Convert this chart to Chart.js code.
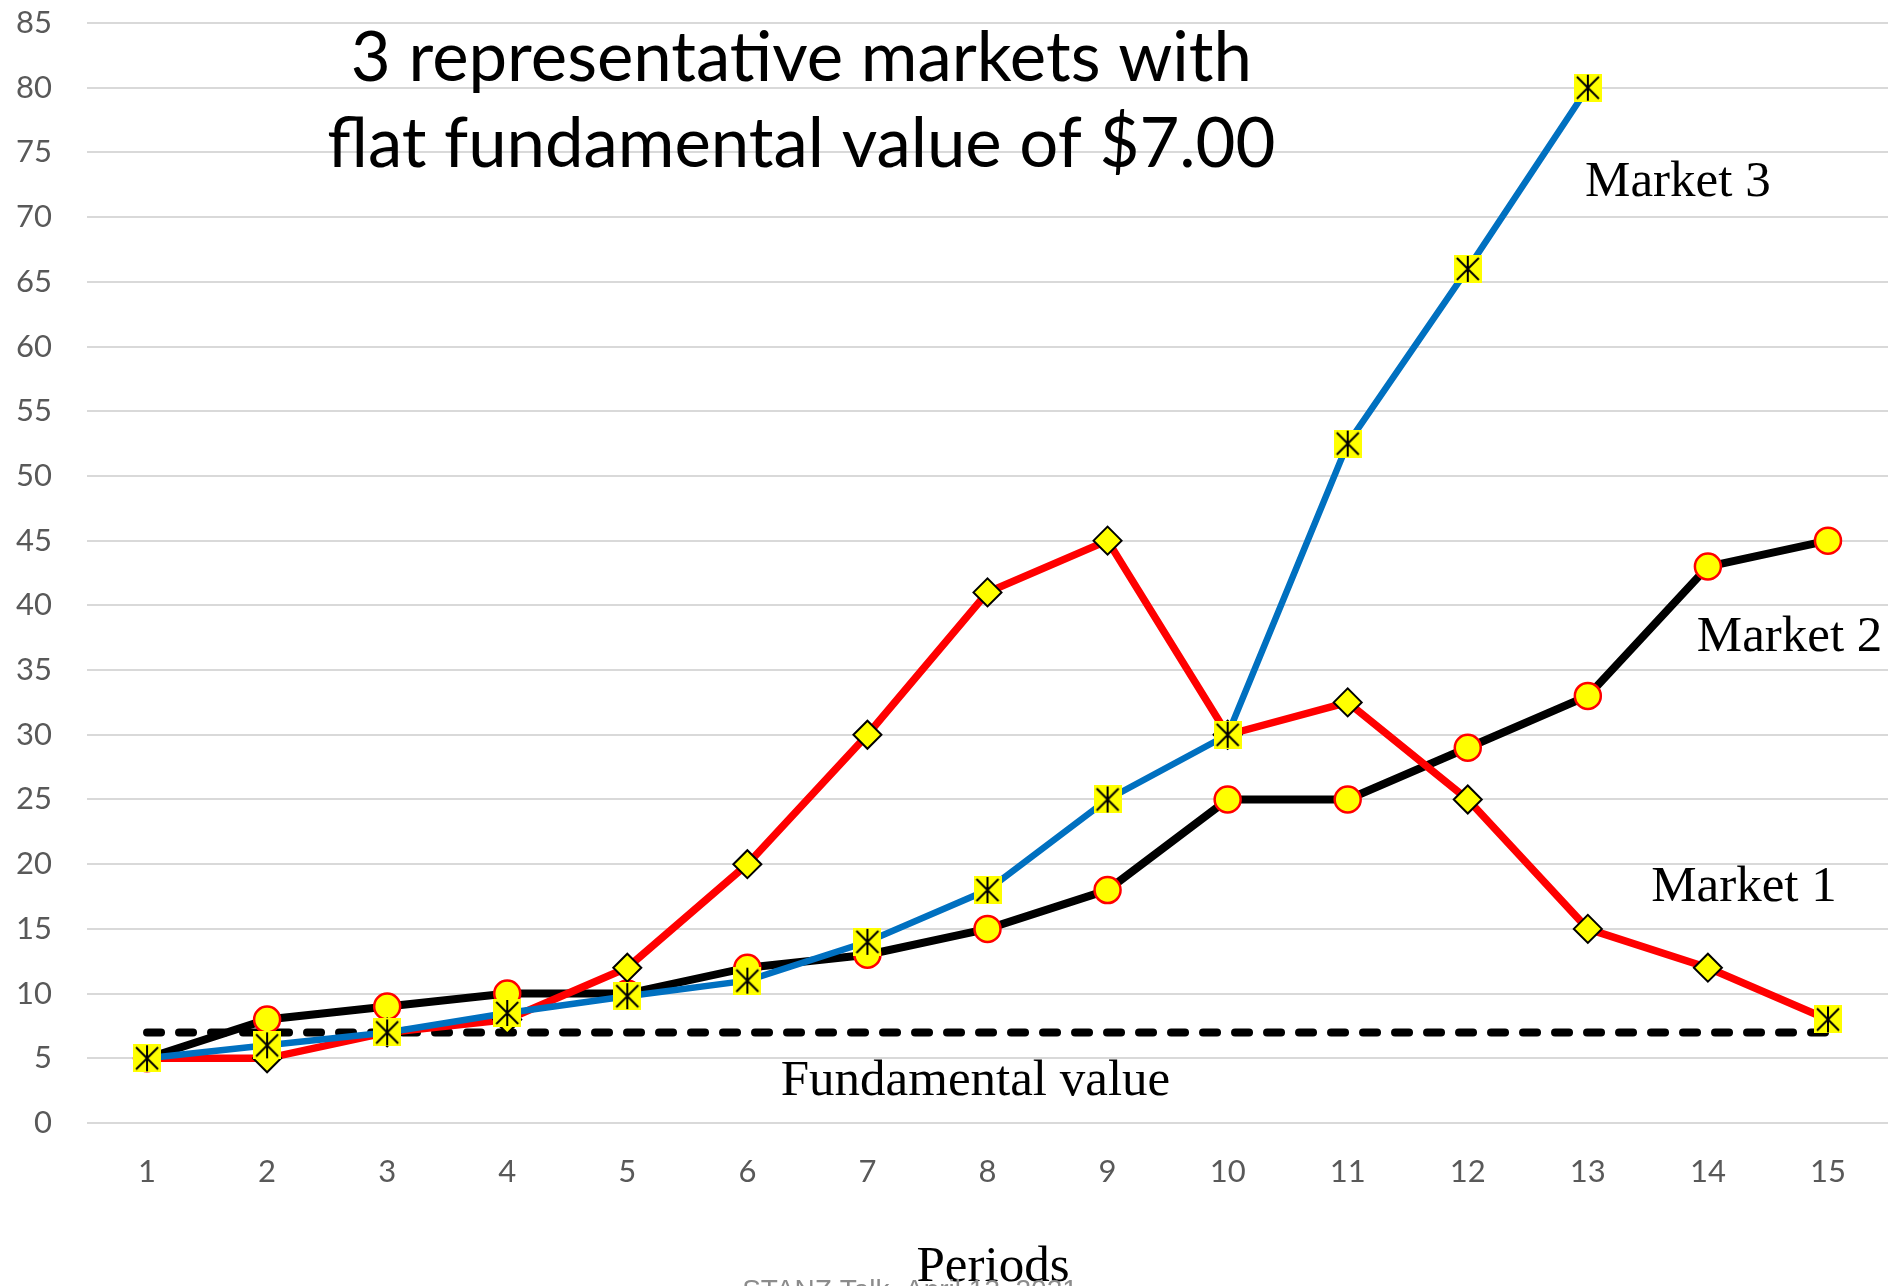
<!DOCTYPE html>
<html>
<head>
<meta charset="utf-8">
<script src="https://cdn.jsdelivr.net/npm/chart.js@4"></script>
<style>
  html, body { margin: 0; padding: 0; background: #fff; overflow: hidden; }
  canvas { display: block; }
</style>
</head>
<body>
<canvas id="chart" width="1898" height="1286"></canvas>
<script>
const periods = ['1', '2', '3', '4', '5', '6', '7', '8', '9', '10', '11', '12', '13', '14', '15'];
const market1 = [5, 5, 7, 8, 12, 20, 30, 41, 45, 30, 32.5, 25, 15, 12, 8];
const market2 = [5, 8, 9, 10, 10, 12, 13, 15, 18, 25, 25, 29, 33, 43, 45];
const market3 = [5, 6, 7, 8.5, 9.8, 11, 14, 18, 25, 30, 52.5, 66, 80];
const fundamental = [7, 7, 7, 7, 7, 7, 7, 7, 7, 7, 7, 7, 7, 7, 7];

const titleLines = ['3 representative markets with', 'flat fundamental value of $7.00'];
// labels placed in data units: [text, period, value]
const notes = [
    ['Market 3', 13.75, 72.7],
    ['Market 2', 14.68, 37.5],
    ['Market 1', 14.3, 18.2],
    ['Fundamental value', 7.9, 3.2]
];

// yellow square with asterisk marker
const starBox = (() => {
    const c = document.createElement('canvas');
    c.width = 28; c.height = 28;
    const g = c.getContext('2d');
    g.fillStyle = '#ffff00';
    g.fillRect(0, 0, 28, 28);
    g.strokeStyle = '#000';
    g.lineWidth = 2;
    g.beginPath();
    g.moveTo(3, 3); g.lineTo(25, 25);
    g.moveTo(25, 3); g.lineTo(3, 25);
    g.moveTo(14, 1); g.lineTo(14, 27);
    g.stroke();
    return c;
})();

const market1Styles = market1.map((v, i) => (i === 0 || i === market1.length - 1) ? starBox : 'rectRot');

const serif = '"Liberation Serif", "DejaVu Serif", serif';

const textPlugin = {
    id: 'texts',
    afterDraw(chart) {
        const { ctx, scales } = chart;
        const x = scales.x, y = scales.y;
        const px = (p) => x.getPixelForValue(0) + (p - 1) * (x.getPixelForValue(1) - x.getPixelForValue(0));
        ctx.save();
        ctx.fillStyle = '#000';
        ctx.textAlign = 'center';
        ctx.textBaseline = 'middle';

        // title, fitted to the reference width
        ctx.font = '70px Lato';
        const w = ctx.measureText(titleLines[1]).width;
        const size = 70 * 949 / w;
        ctx.font = size.toFixed(1) + 'px Lato';
        ctx.fillText(titleLines[0], px(6.45), y.getPixelForValue(82.2));
        ctx.fillText(titleLines[1], px(6.45), y.getPixelForValue(75.6));

        ctx.font = '51px ' + serif;
        notes.forEach(([t, p, v]) => ctx.fillText(t, px(p), y.getPixelForValue(v)));

        ctx.fillText('Periods', 993, 1268);

        ctx.fillStyle = '#8c8c8c';
        ctx.font = '28px "Liberation Sans"';
        ctx.textBaseline = 'top';
        ctx.fillText('STANZ Talk, April 13, 2021', 910, 1277);
        ctx.restore();
    }
};

new Chart(document.getElementById('chart'), {
    type: 'line',
    data: {
        labels: periods,
        datasets: [
            {
                label: 'Fundamental value',
                data: fundamental,
                borderColor: '#000',
                borderWidth: 8,
                borderDash: [14, 18],
                borderCapStyle: 'round',
                pointRadius: 0,
                order: 4
            },
            {
                label: 'Market 2',
                data: market2,
                borderColor: '#000',
                borderWidth: 8,
                pointStyle: 'circle',
                pointRadius: 13,
                pointBackgroundColor: '#ffff00',
                pointBorderColor: '#ff0000',
                pointBorderWidth: 2.5,
                order: 3
            },
            {
                label: 'Market 1',
                data: market1,
                borderColor: '#ff0000',
                borderWidth: 7.5,
                pointStyle: market1Styles,
                pointRadius: 14,
                pointBackgroundColor: '#ffff00',
                pointBorderColor: '#000',
                pointBorderWidth: 2,
                order: 2
            },
            {
                label: 'Market 3',
                data: market3,
                borderColor: '#0070c0',
                borderWidth: 6.5,
                pointStyle: starBox,
                pointRadius: 14,
                order: 1
            }
        ]
    },
    options: {
        responsive: false,
        animation: false,
        devicePixelRatio: 1,
        layout: { autoPadding: false, padding: { top: 23, right: 10, bottom: 0, left: 0 } },
        plugins: {
            legend: { display: false },
            tooltip: { enabled: false },
            title: { display: false }
        },
        scales: {
            x: {
                offset: true,
                grid: { display: false },
                border: { display: false },
                ticks: {
                    color: '#595959',
                    padding: 22,
                    font: { size: 31, family: 'Lato' }
                },
                afterFit: (axis) => {
                    axis.height = 163;
                    axis.paddingLeft = 0;
                    axis.paddingRight = 0;
                }
            },
            y: {
                min: 0,
                max: 85,
                grid: { color: '#d9d9d9', lineWidth: 2, drawTicks: false },
                border: { display: false },
                ticks: {
                    stepSize: 5,
                    color: '#595959',
                    padding: 35,
                    font: { size: 31, family: 'Lato' }
                },
                afterFit: (axis) => {
                    axis.width = 87;
                    axis.paddingTop = 0;
                    axis.paddingBottom = 0;
                }
            }
        }
    },
    plugins: [textPlugin]
});
</script>
</body>
</html>
